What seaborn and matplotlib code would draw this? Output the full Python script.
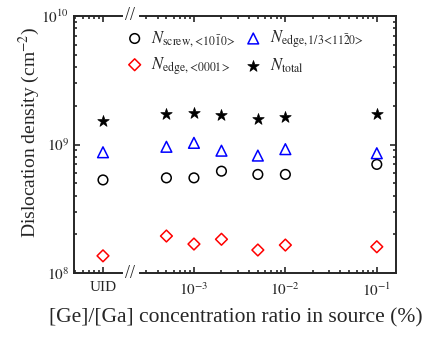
import numpy as np
import pandas as pd
import matplotlib
matplotlib.use("Agg")
import matplotlib.pyplot as plt
import seaborn as sns
from matplotlib.ticker import LogLocator, FixedLocator, NullFormatter, FixedFormatter

# ---- data ----
ratio = [5e-4, 1e-3, 2e-3, 5e-3, 1e-2, 1e-1]
uid_pos = [1e-5]
screw_uid = [5.3e8]
edge13_uid = [8.7e8]
edge0001_uid = [1.36e8]
total_uid = [1.53e9]
screw = [5.5e8, 5.5e8, 6.2e8, 5.85e8, 5.85e8, 7.0e8]
edge13 = [9.6e8, 1.03e9, 8.95e8, 8.2e8, 9.2e8, 8.55e8]
edge0001 = [1.94e8, 1.68e8, 1.83e8, 1.51e8, 1.65e8, 1.6e8]
total = [1.72e9, 1.75e9, 1.70e9, 1.58e9, 1.64e9, 1.72e9]
xticks_right = [1e-3, 1e-2, 1e-1]
xticklabels_right = [r"$10^{-3}$", r"$10^{-2}$", r"$10^{-1}$"]
yticks = [1e8, 1e9, 1e10]
yticklabels = [r"$10^{8}$", r"$10^{9}$", r"$10^{10}$"]

sns.set_style("ticks")
plt.rcParams["font.family"] = ["Liberation Serif", "DejaVu Serif"]
plt.rcParams["mathtext.fontset"] = "stix"
plt.rcParams["axes.linewidth"] = 1.4

fig = plt.figure(figsize=(4.44, 3.41), dpi=100)
H = 257 / 341
B = 1 - 273 / 341
axL = fig.add_axes([74 / 444, B, 48 / 444, H])
axR = fig.add_axes([140 / 444, B, 256 / 444, H])

LT = r"\!<\!"
GT = r"\!>"
series = [
    ("screw", screw_uid, screw, "o", "black", "none",
     r"$N_{\mathrm{screw},%s10\bar{1}0%s}$" % (LT, GT), 48),
    ("edge0001", edge0001_uid, edge0001, "D", "red", "none",
     r"$N_{\mathrm{edge},%s0001%s}$" % (LT, GT), 36),
    ("edge13", edge13_uid, edge13, "^", "blue", "none",
     r"$N_{\mathrm{edge},1/3%s11\bar{2}0%s}$" % (LT, GT), 60),
    ("total", total_uid, total, "*", "black", "black", r"$N_{\mathrm{total}}$", 75),
]

for name, vu, vr, m, ec, fc, lab, s in series:
    dfu = pd.DataFrame({"x": uid_pos, "y": vu})
    dfr = pd.DataFrame({"x": ratio, "y": vr})
    lw = 1.1 if m != "*" else 0.5
    sns.scatterplot(data=dfu, x="x", y="y", ax=axL, marker=m, s=s,
                    facecolor=fc, edgecolor=ec, linewidth=lw, legend=False)
    sns.scatterplot(data=dfr, x="x", y="y", ax=axR, marker=m, s=s,
                    facecolor=fc, edgecolor=ec, linewidth=lw, label=lab, legend=False)

for ax in (axL, axR):
    ax.set_xscale("log")
    ax.set_yscale("log")
    ax.set_ylim(1e8, 1e10)
    ax.set_xlabel("")
    ax.set_ylabel("")
    ax.tick_params(which="both", direction="in", top=True, right=True, width=1.2)
    ax.tick_params(which="major", length=4)
    ax.tick_params(which="minor", length=2)
    ax.yaxis.set_major_locator(FixedLocator(yticks))
    ax.yaxis.set_minor_locator(LogLocator(base=10, subs=np.arange(2, 10)))
    ax.yaxis.set_minor_formatter(NullFormatter())
    ax.xaxis.set_minor_locator(LogLocator(base=10, subs=np.arange(2, 10), numticks=20))
    ax.xaxis.set_minor_formatter(NullFormatter())

axL.set_xlim(10 ** (-5 - 0.317), 10 ** (-5 + 0.208))
axL.xaxis.set_major_locator(FixedLocator(uid_pos))
axL.xaxis.set_major_formatter(FixedFormatter(["UID"]))
axL.yaxis.set_major_formatter(FixedFormatter(yticklabels))
axL.spines["right"].set_visible(False)
axL.tick_params(which="both", right=False, labelsize=11)
axL.tick_params(axis="x", pad=6, labelsize=11)

axR.set_xlim(10 ** -3.59, 10 ** -0.79)
axR.xaxis.set_major_locator(FixedLocator(xticks_right))
axR.xaxis.set_major_formatter(FixedFormatter(xticklabels_right))
axR.spines["left"].set_visible(False)
axR.tick_params(which="both", left=False, labelleft=False)
axR.tick_params(axis="x", pad=6, labelsize=11)

# break marks
for yy in (16, 273):
    fig.text(130 / 444, 1 - yy / 341, "//", ha="center", va="center",
             fontsize=13)

fig.text(29 / 444, 1 - 132 / 341, r"Dislocation density (cm$^{-2}$)",
         rotation=90, ha="center", va="center", fontsize=14)
fig.text(236 / 444, 1 - 318 / 341, "[Ge]/[Ga] concentration ratio in source (%)",
         ha="center", va="center", fontsize=15.5)

handles, labels = axR.get_legend_handles_labels()
fig.legend(handles, labels, ncol=2, loc="upper left",
           bbox_to_anchor=(118 / 444, 1 - 22 / 341), frameon=False,
           fontsize=12, handletextpad=0.4, columnspacing=0.45,
           labelspacing=0.35, borderaxespad=0, handlelength=1.2)

fig.savefig("out.png", dpi=100)
